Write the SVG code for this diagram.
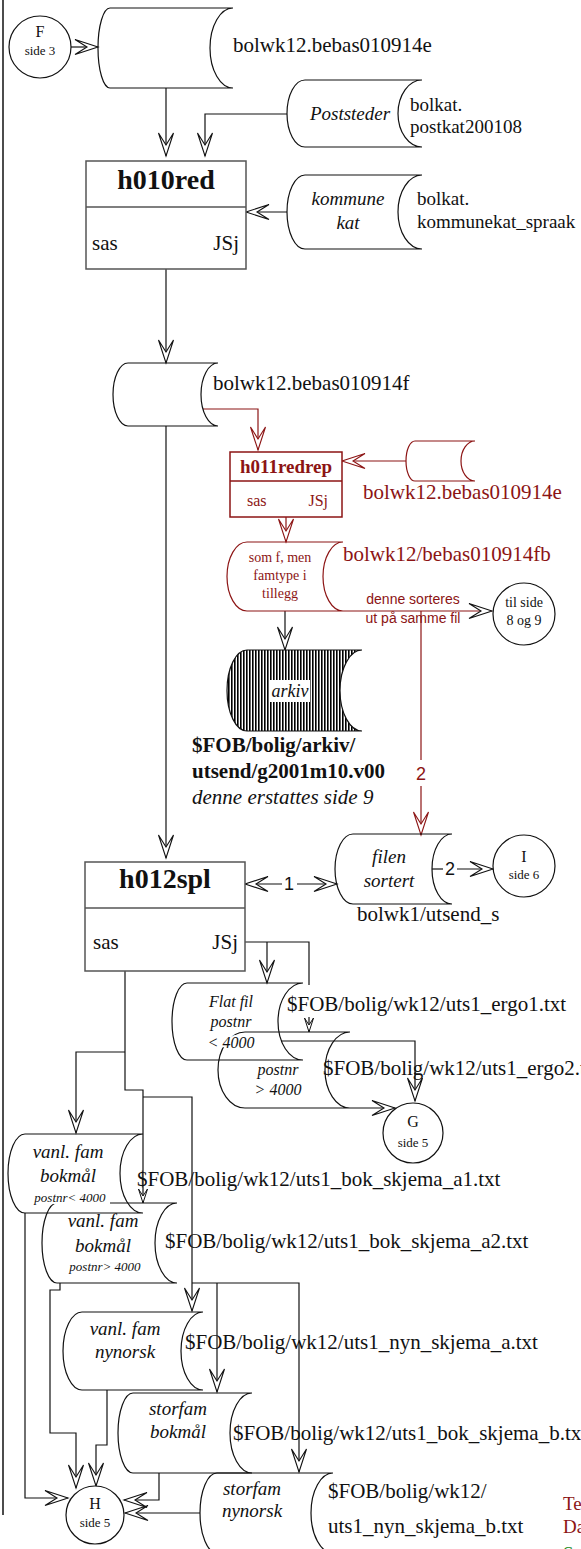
<svg xmlns="http://www.w3.org/2000/svg" width="581" height="1549" viewBox="0 0 581 1549">
<style>
.ln{fill:none;stroke:#111;stroke-width:1.2}
.rl{fill:none;stroke:#8c1414;stroke-width:1.2}
.cy{fill:none;stroke:#111;stroke-width:1.2}
.rcy{fill:none;stroke:#8c1414;stroke-width:1.2}
.box{fill:#fff;stroke:#555;stroke-width:1.5}
.rbox{fill:#fff;stroke:#8c1414;stroke-width:1.5}
.circ{fill:#fff;stroke:#111;stroke-width:1.2}
text{font-family:"Liberation Serif","Times New Roman",serif;fill:#111}
.f21{font-size:21px}
.f19{font-size:19px}
.it{font-style:italic}
.b{font-weight:bold}
.c{text-anchor:middle}
.r{text-anchor:end}
.red{fill:#8c1414}
.sans{font-family:"Liberation Sans",Arial,sans-serif}
.sm{font-size:14px}
.tiny{font-size:13px}
.halo{stroke:#fff;stroke-width:4px;paint-order:stroke;stroke-linejoin:round}
</style>
<defs>
<marker id="ah" viewBox="-24 -9 26 18" refX="0" refY="0" markerWidth="26" markerHeight="18" markerUnits="userSpaceOnUse" orient="auto-start-reverse" overflow="visible">
<path d="M0,0 L-23,-7.5 L-11,0 L-23,7.5 Z" fill="#fff" stroke="#111" stroke-width="1.1"/>
</marker>
<marker id="ahr" viewBox="-24 -9 26 18" refX="0" refY="0" markerWidth="26" markerHeight="18" markerUnits="userSpaceOnUse" orient="auto" overflow="visible">
<path d="M0,0 L-23,-7.5 L-11,0 L-23,7.5 Z" fill="#fff" stroke="#8c1414" stroke-width="1.1"/>
</marker>
<marker id="ahs" viewBox="-16 -6 18 12" refX="0" refY="0" markerWidth="18" markerHeight="12" markerUnits="userSpaceOnUse" orient="auto" overflow="visible">
<path d="M0,0 L-14,-4.5 L-7,0 L-14,4.5 Z" fill="#fff" stroke="#111" stroke-width="1"/>
</marker>
<pattern id="hatch" patternUnits="userSpaceOnUse" width="3" height="10">
<rect width="3" height="10" fill="#fff"/>
<rect width="1.6" height="10" fill="#000"/>
</pattern>
</defs>
<rect width="581" height="1549" fill="#fff"/>
<path d="M3,0 V1515" stroke="#111" stroke-width="1.5" fill="none"/>

<g id="connectors">
<path class="ln" d="M71,47 H98" marker-end="url(#ah)"/>
<path class="ln" d="M166,88 V156" marker-end="url(#ah)"/>
<path class="ln" d="M287,114 H205 V156" marker-end="url(#ah)"/>
<path class="ln" d="M287,212 H246" marker-end="url(#ah)"/>
<path class="ln" d="M166,269 V363" marker-end="url(#ah)"/>
<path class="ln" d="M166,426 V858" marker-end="url(#ah)"/>
<path class="rl" d="M203,409 H258 V450" marker-end="url(#ahr)"/>
<path class="rl" d="M406,461 H342" marker-end="url(#ahr)"/>
<path class="rl" d="M286,517 V542" marker-end="url(#ahr)"/>
<path class="rl" d="M343,611 H492" marker-end="url(#ah)"/>
<path class="ln" d="M285,611 V650" marker-end="url(#ah)"/>
<path class="rl" d="M421,611 V760"/>
<path class="rl" d="M421,786 V835" marker-end="url(#ahr)"/>
<text x="421" y="780" class="sans c red" font-size="18">2</text>
<path class="ln" d="M282,884 H245" marker-end="url(#ah)"/>
<path class="ln" d="M297,884 H337" marker-end="url(#ah)"/>
<text x="289" y="890" class="sans c" font-size="18">1</text>
<path class="ln" d="M432,869 H443"/>
<path class="ln" d="M457,869 H493" marker-end="url(#ah)"/>
<text x="450" y="875" class="sans c" font-size="18">2</text>
<path class="ln" d="M245,942 H309 V985"/>
<path class="ln" d="M267,942 V983" marker-end="url(#ah)"/>
<path class="ln" d="M309,1017 V1032" marker-end="url(#ahs)"/>
<path class="ln" d="M281,1041 H415 V1101" marker-end="url(#ah)"/>
<path class="ln" d="M350,1108 H395" marker-end="url(#ah)"/>
<path class="ln" d="M125,971 V1090 H143 V1203" marker-end="url(#ahs)"/>
<path class="ln" d="M125,1052 H76 V1133" marker-end="url(#ah)"/>
<path class="ln" d="M143,1097 H192 V1311" marker-end="url(#ah)"/>
<path class="ln" d="M192,1283 H299 V1472" marker-end="url(#ah)"/>
<path class="ln" d="M217,1283 V1392" marker-end="url(#ah)"/>
<path class="ln" d="M25,1213 V1498 H68" marker-end="url(#ah)"/>
<path class="ln" d="M60,1283 V1290 H50 V1433 H76 V1488" marker-end="url(#ah)"/>
<path class="ln" d="M107,1390 V1445 H96 V1486" marker-end="url(#ah)"/>
<path class="ln" d="M159,1473 V1500 H124" marker-end="url(#ah)"/>
<path class="ln" d="M200,1513 H125" marker-end="url(#ah)"/>
</g>

<g id="F">
<circle class="circ" cx="40" cy="47" r="31"/>
<text x="40" y="37" class="c" font-size="16">F</text>
<text x="40" y="55" class="c tiny">side 3</text>
</g>

<g id="bolwk12e">
<path class="cy" d="M110,8 H233 A23,40 0 0 0 233,88 H110 A12,40 0 0 1 110,8 Z"/>
<text x="233" y="52" class="f21">bolwk12.bebas010914e</text>
</g>

<g id="poststeder">
<path class="cy" d="M305,80 H422 A24,33.5 0 0 0 422,147 H305 A18,33.5 0 0 1 305,80 Z"/>
<text x="350" y="120" class="c it f19">Poststeder</text>
<text x="410" y="111" class="f19">bolkat.</text>
<text x="410" y="133" class="f19">postkat200108</text>
</g>

<g id="h010red">
<rect class="box" x="86" y="161" width="160" height="108"/>
<line x1="86" y1="207" x2="246" y2="207" stroke="#555" stroke-width="1.5"/>
<text x="166" y="189" class="c b" font-size="28">h010red</text>
<text x="92" y="250" class="f21">sas</text>
<text x="239" y="250" class="r f21">JSj</text>
</g>

<g id="kommunekat">
<path class="cy" d="M305,175 H422 A24,37 0 0 0 422,249 H305 A18,37 0 0 1 305,175 Z"/>
<text x="348" y="205" class="c it f19">kommune</text>
<text x="348" y="229" class="c it f19">kat</text>
<text x="417" y="205" class="f19">bolkat.</text>
<text x="417" y="228" class="f19">kommunekat_spraak</text>
</g>

<g id="bolwk12f">
<path class="cy" d="M128,363 H218 A17,31.5 0 0 0 218,426 H128 A15,31.5 0 0 1 128,363 Z"/>
<text x="213" y="390" class="f21">bolwk12.bebas010914f</text>
</g>

<g id="h011redrep">
<rect class="rbox" x="230" y="452" width="112" height="65"/>
<line x1="230" y1="481" x2="342" y2="481" stroke="#8c1414" stroke-width="1.5"/>
<text x="286" y="473" class="c b red" font-size="19">h011redrep</text>
<text x="247" y="506" class="red" font-size="16">sas</text>
<text x="328" y="506" class="r red" font-size="16">JSj</text>
</g>

<g id="bolwk12e-red">
<path class="rcy" d="M415,441 H475 A14,20 0 0 0 475,481 H415 A9,20 0 0 1 415,441 Z"/>
<text x="363" y="499" class="f21 red">bolwk12.bebas010914e</text>
</g>

<g id="bebas010914fb">
<path class="rcy" d="M247,542 H343 A20,34.5 0 0 0 343,611 H247 A20,34.5 0 0 1 247,542 Z"/>
<text x="280" y="562" class="c red sm">som f, men</text>
<text x="280" y="580" class="c red sm">famtype i</text>
<text x="280" y="598" class="c red sm">tillegg</text>
<text x="343" y="561" class="f21 red">bolwk12/bebas010914fb</text>
<text x="413" y="604" class="c sans red sm">denne sorteres</text>
<text x="413" y="623" class="c sans red sm">ut på samme fil</text>
</g>

<g id="tilside">
<circle class="circ" cx="524" cy="614" r="31"/>
<text x="524" y="607" class="c sm">til side</text>
<text x="524" y="625" class="c sm">8 og 9</text>
</g>

<g id="arkiv">
<path d="M247,650 H362 A22,40.5 0 0 0 362,731 H247 A20,40.5 0 0 1 247,650 Z" fill="url(#hatch)" stroke="#111" stroke-width="1.2"/>
<rect x="270" y="680" width="40" height="22" fill="#fff"/>
<text x="290" y="697" class="c it" font-size="18">arkiv</text>
<text x="192" y="752" class="b f21">$FOB/bolig/arkiv/</text>
<text x="192" y="778" class="b f21">utsend/g2001m10.v00</text>
<text x="192" y="804" class="it f21">denne erstattes side 9</text>
</g>

<g id="h012spl">
<rect class="box" x="85" y="862" width="160" height="109"/>
<line x1="85" y1="908" x2="245" y2="908" stroke="#555" stroke-width="1.5"/>
<text x="165" y="888" class="c b" font-size="28">h012spl</text>
<text x="93" y="949" class="f21">sas</text>
<text x="238" y="949" class="r f21">JSj</text>
</g>

<g id="filen">
<path class="cy" d="M353,834 H452 A20,35 0 0 0 452,904 H353 A18,35 0 0 1 353,834 Z"/>
<text x="389" y="863" class="c it f19">filen</text>
<text x="389" y="887" class="c it f19">sortert</text>
<text x="357" y="921" class="f21">bolwk1/utsend_s</text>
</g>

<g id="I">
<circle class="circ" cx="524" cy="866" r="31"/>
<text x="524" y="862" class="c" font-size="16">I</text>
<text x="524" y="879" class="c tiny">side 6</text>
</g>

<g id="ergo2">
<path class="cy" d="M245,1032 H350 A25,38 0 0 0 350,1108 H245 A27,38 0 0 1 245,1032 Z"/>
<text x="278" y="1075" class="c it" font-size="16">postnr</text>
<text x="278" y="1095" class="c it" font-size="16">&gt; 4000</text>
<text x="323" y="1075" class="f21">$FOB/bolig/wk12/uts1_ergo2.txt</text>
</g>

<g id="flatfil">
<path class="cy" d="M187,983 H303 A25,38.5 0 0 0 303,1060 H187 A15,38.5 0 0 1 187,983 Z"/>
<text x="231" y="1007" class="c it" font-size="16">Flat fil</text>
<text x="231" y="1027" class="c it halo" font-size="16">postnr</text>
<text x="231" y="1048" class="c it halo" font-size="16">&lt; 4000</text>
<text x="287" y="1011" class="f21">$FOB/bolig/wk12/uts1_ergo1.txt</text>
</g>

<g id="G">
<circle class="circ" cx="413" cy="1133" r="30"/>
<text x="413" y="1127" class="c" font-size="16">G</text>
<text x="413" y="1147" class="c tiny">side 5</text>
</g>

<g id="bokmaal2">
<path class="cy" d="M110,1203 H177 A22,40 0 0 0 177,1283 H57 A15,40 0 0 1 57,1203"/>
<text x="103" y="1227" class="c it f19">vanl. fam</text>
<text x="103" y="1252" class="c it f19">bokmål</text>
<text x="105" y="1271" class="c it tiny">postnr&gt; 4000</text>
<text x="165" y="1248" class="f21">$FOB/bolig/wk12/uts1_bok_skjema_a2.txt</text>
</g>

<g id="bokmaal1">
<path class="cy" d="M25,1134 H143 A23,39.5 0 0 0 143,1213 H25 A17,39.5 0 0 1 25,1134 Z"/>
<text x="68" y="1158" class="c it f19">vanl. fam</text>
<text x="68" y="1182" class="c it f19">bokmål</text>
<text x="70" y="1202" class="c it tiny halo">postnr&lt; 4000</text>
<text x="137" y="1186" class="f21">$FOB/bolig/wk12/uts1_bok_skjema_a1.txt</text>
</g>

<g id="nynorsk">
<path class="cy" d="M82,1312 H203 A22,39 0 0 0 203,1390 H82 A19,39 0 0 1 82,1312 Z"/>
<text x="125" y="1335" class="c it f19">vanl. fam</text>
<text x="125" y="1358" class="c it f19">nynorsk</text>
<text x="185" y="1349" class="f21">$FOB/bolig/wk12/uts1_nyn_skjema_a.txt</text>
</g>

<g id="storfam-bokmaal">
<path class="cy" d="M133,1393 H252 A22,40 0 0 0 252,1473 H133 A15,40 0 0 1 133,1393 Z"/>
<text x="178" y="1415" class="c it f19">storfam</text>
<text x="178" y="1438" class="c it f19">bokmål</text>
<text x="233" y="1440" class="f21">$FOB/bolig/wk12/uts1_bok_skjema_b.txt</text>
</g>

<g id="storfam-nynorsk">
<path class="cy" d="M217,1473 H333 A22,40 0 0 0 333,1553 H217 A17,40 0 0 1 217,1473 Z"/>
<text x="252" y="1495" class="c it f19">storfam</text>
<text x="252" y="1517" class="c it f19">nynorsk</text>
<text x="328" y="1498" class="f21">$FOB/bolig/wk12/</text>
<text x="328" y="1533" class="f21">uts1_nyn_skjema_b.txt</text>
</g>

<g id="H">
<circle class="circ" cx="95" cy="1515" r="29"/>
<text x="95" y="1509" class="c" font-size="16">H</text>
<text x="95" y="1527" class="c tiny">side 5</text>
</g>

<g id="footer">
<text x="563" y="1510" class="f19 red">Te</text>
<text x="563" y="1533" class="f19 red">Da</text>
<text x="563" y="1560" class="f19" style="fill:#1a8a1a">S</text>
</g>
</svg>
